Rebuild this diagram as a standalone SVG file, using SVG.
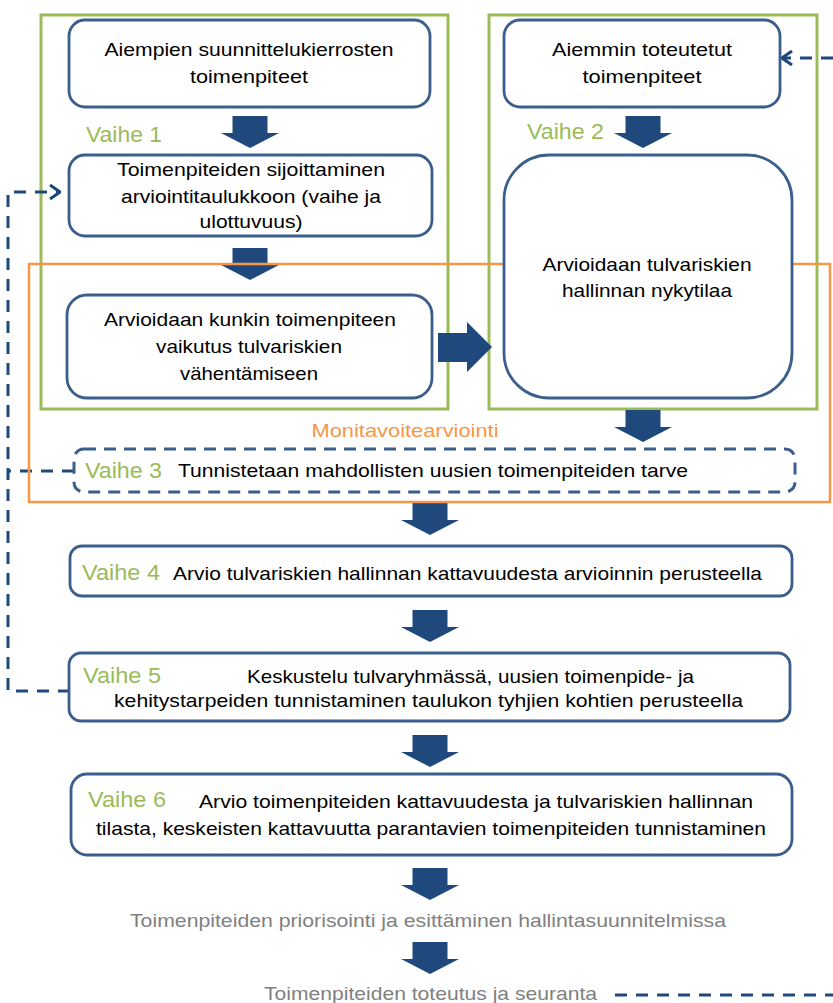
<svg xmlns="http://www.w3.org/2000/svg" width="833" height="1003" viewBox="0 0 833 1003">
<style>
.bg{fill:#ffffff}
.grp{fill:none;stroke:#9BBB59;stroke-width:3}
.multi{fill:none;stroke:#F79646;stroke-width:2.5}
.box{fill:#ffffff;stroke:#3B5E8C;stroke-width:2.8}
.dbox{fill:#ffffff;stroke:#3B5E8C;stroke-width:3;stroke-dasharray:12 8}
.t{font-family:"Liberation Sans",Arial,sans-serif;font-size:19px;fill:#000000}
.c{text-anchor:middle}
.v{font-family:"Liberation Sans",Arial,sans-serif;font-size:22px;fill:#9BBB59}
.o{font-family:"Liberation Sans",Arial,sans-serif;font-size:19px;fill:#F79646}
.g{font-family:"Liberation Sans",Arial,sans-serif;font-size:19px;fill:#808080}
.blk{fill:#1F497D}
.dash{fill:none;stroke:#1F497D;stroke-width:3;stroke-dasharray:12 9}
</style>
<defs>
<path id="down" d="M-17.5,0 H17.5 V17 H29 L0,32 L-29,17 H-17.5 Z"/>
<marker id="chev" viewBox="0 0 12 16" refX="11" refY="8" markerWidth="12" markerHeight="16" markerUnits="userSpaceOnUse" orient="auto">
<path d="M1,1 L11,8 L1,15" fill="none" stroke="#1F497D" stroke-width="3"/>
</marker>
</defs>
<rect class="bg" x="0" y="0" width="833" height="1003"/>

<g id="vaihe1-group">
<rect class="grp" x="41" y="15" width="407" height="394"/>
<text class="v" x="86" y="142" textLength="76" lengthAdjust="spacingAndGlyphs">Vaihe 1</text>
</g>
<g id="vaihe2-group">
<rect class="grp" x="489" y="15" width="328" height="394"/>
<text class="v" x="527" y="139" textLength="77" lengthAdjust="spacingAndGlyphs">Vaihe 2</text>
</g>

<g id="connectors">
<use href="#down" class="blk" x="250" y="116"/>
<use href="#down" class="blk" x="250" y="248"/>
<use href="#down" class="blk" x="643" y="116"/>
<use href="#down" class="blk" x="643" y="410"/>
<use href="#down" class="blk" x="430" y="503"/>
<use href="#down" class="blk" x="430" y="610"/>
<use href="#down" class="blk" x="430" y="735"/>
<use href="#down" class="blk" x="430" y="868"/>
<use href="#down" class="blk" x="430" y="942"/>
<path class="blk" d="M438,333 H467 V322 L492,347 L467,372 V362 H438 Z"/>
<path class="dash" d="M70,691 H8 V192 H60" marker-end="url(#chev)"/>
<path class="dash" d="M74,471 H8"/>
<path class="dash" d="M833,58 H782" marker-end="url(#chev)"/>
<path class="dash" d="M615,995 H833"/>
</g>

<g id="monitavoitearviointi">
<rect class="multi" x="29" y="264" width="801" height="238"/>
<text class="o c" x="405" y="437" textLength="187" lengthAdjust="spacingAndGlyphs">Monitavoitearviointi</text>
</g>

<g id="node-aiempien">
<rect class="box" x="69" y="20" width="361" height="87" rx="16"/>
<text class="t c" x="249" y="56" textLength="289" lengthAdjust="spacingAndGlyphs">Aiempien suunnittelukierrosten</text>
<text class="t c" x="249" y="83" textLength="118" lengthAdjust="spacingAndGlyphs">toimenpiteet</text>
</g>
<g id="node-sijoittaminen">
<rect class="box" x="69" y="155" width="363" height="81" rx="16"/>
<text class="t c" x="251" y="176" textLength="268" lengthAdjust="spacingAndGlyphs">Toimenpiteiden sijoittaminen</text>
<text class="t c" x="251" y="203" textLength="260" lengthAdjust="spacingAndGlyphs">arviointitaulukkoon (vaihe ja</text>
<text class="t c" x="251" y="228" textLength="103" lengthAdjust="spacingAndGlyphs">ulottuvuus)</text>
</g>
<g id="node-vaikutus">
<rect class="box" x="67" y="295" width="365" height="103" rx="20"/>
<text class="t c" x="250" y="326" textLength="292" lengthAdjust="spacingAndGlyphs">Arvioidaan kunkin toimenpiteen</text>
<text class="t c" x="249" y="353" textLength="186" lengthAdjust="spacingAndGlyphs">vaikutus tulvariskien</text>
<text class="t c" x="249" y="380" textLength="138" lengthAdjust="spacingAndGlyphs">vähentämiseen</text>
</g>
<g id="node-aiemmin">
<rect class="box" x="504" y="20" width="276" height="87" rx="16"/>
<text class="t c" x="642" y="56" textLength="180" lengthAdjust="spacingAndGlyphs">Aiemmin toteutetut</text>
<text class="t c" x="642" y="83" textLength="119" lengthAdjust="spacingAndGlyphs">toimenpiteet</text>
</g>
<g id="node-nykytila">
<rect class="box" x="504" y="155" width="288" height="243" rx="45"/>
<text class="t c" x="647" y="271" textLength="209" lengthAdjust="spacingAndGlyphs">Arvioidaan tulvariskien</text>
<text class="t c" x="647" y="297" textLength="170" lengthAdjust="spacingAndGlyphs">hallinnan nykytilaa</text>
</g>
<g id="node-vaihe3">
<rect class="dbox" x="74" y="449" width="721" height="43" rx="10"/>
<text class="v" x="85" y="478" textLength="77" lengthAdjust="spacingAndGlyphs">Vaihe 3</text>
<text class="t" x="178" y="477" textLength="510" lengthAdjust="spacingAndGlyphs">Tunnistetaan mahdollisten uusien toimenpiteiden tarve</text>
</g>
<g id="node-vaihe4">
<rect class="box" x="70" y="546" width="722" height="50" rx="12"/>
<text class="v" x="82" y="580" textLength="78" lengthAdjust="spacingAndGlyphs">Vaihe 4</text>
<text class="t" x="173" y="580" textLength="589" lengthAdjust="spacingAndGlyphs">Arvio tulvariskien hallinnan kattavuudesta arvioinnin perusteella</text>
</g>
<g id="node-vaihe5">
<rect class="box" x="69" y="653" width="721" height="68" rx="12"/>
<text class="v" x="83" y="683" textLength="78" lengthAdjust="spacingAndGlyphs">Vaihe 5</text>
<text class="t" x="247" y="683" textLength="447" lengthAdjust="spacingAndGlyphs">Keskustelu tulvaryhmässä, uusien toimenpide- ja</text>
<text class="t" x="114" y="707" textLength="629" lengthAdjust="spacingAndGlyphs">kehitystarpeiden tunnistaminen taulukon tyhjien kohtien perusteella</text>
</g>
<g id="node-vaihe6">
<rect class="box" x="71" y="774" width="721" height="81" rx="16"/>
<text class="v" x="88" y="807" textLength="78" lengthAdjust="spacingAndGlyphs">Vaihe 6</text>
<text class="t" x="199" y="808" textLength="554" lengthAdjust="spacingAndGlyphs">Arvio toimenpiteiden kattavuudesta ja tulvariskien hallinnan</text>
<text class="t" x="96" y="835" textLength="670" lengthAdjust="spacingAndGlyphs">tilasta, keskeisten kattavuutta parantavien toimenpiteiden tunnistaminen</text>
</g>
<g id="node-priorisointi">
<text class="g" x="130" y="927" textLength="596" lengthAdjust="spacingAndGlyphs">Toimenpiteiden priorisointi ja esittäminen hallintasuunnitelmissa</text>
</g>
<g id="node-toteutus">
<text class="g" x="264" y="1000" textLength="333" lengthAdjust="spacingAndGlyphs">Toimenpiteiden toteutus ja seuranta</text>
</g>
</svg>
